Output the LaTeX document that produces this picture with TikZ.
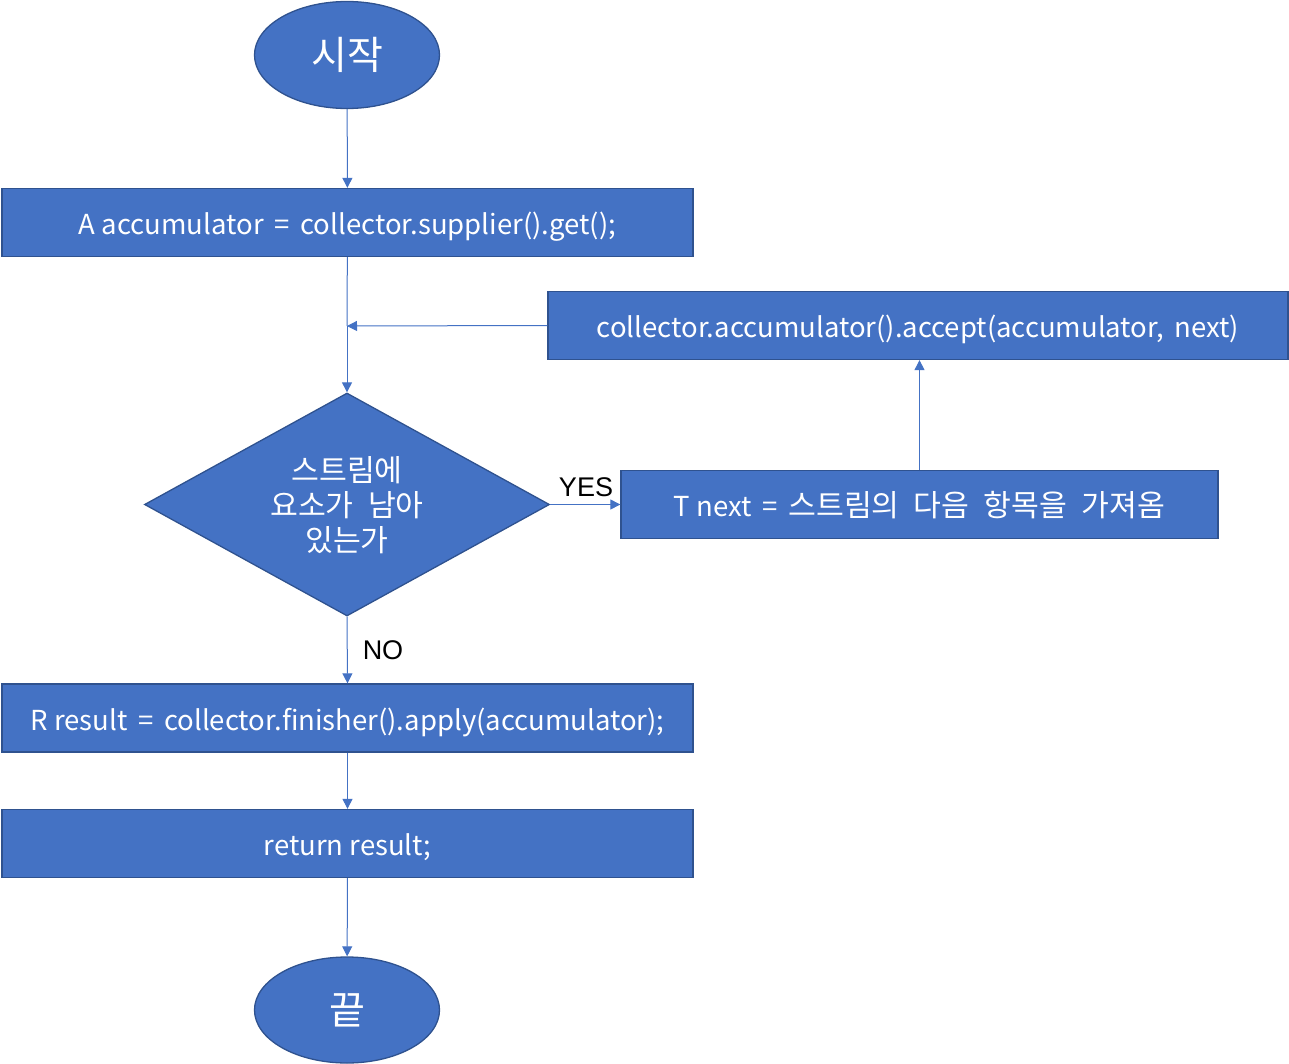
\documentclass[tikz,border=0pt]{standalone}
\usepackage{fontspec}
\setmainfont{Noto Sans CJK KR}
\newfontfamily\kor[Scale=1.1,WordSpace=2.1]{Noto Sans CJK KR}
\newfontfamily\arialf{Liberation Sans}
\usetikzlibrary{arrows.meta,shapes.geometric}
\definecolor{fillblue}{HTML}{4472C4}
\definecolor{edgeblue}{HTML}{2F528F}
\tikzset{
  box/.style={draw=edgeblue, line width=1.3pt, fill=fillblue, text=white, font=\fontsize{27.5}{33}\selectfont, inner sep=0pt, text height=25pt, text depth=1pt},
  term/.style={ellipse, draw=edgeblue, line width=1.3pt, fill=fillblue, text=white, font=\fontsize{39}{44}\selectfont, inner sep=0pt},
  cond/.style={diamond, draw=edgeblue, line width=1.3pt, fill=fillblue, inner sep=0pt},
  condtext/.style={text=white, font=\kor\fontsize{27.5}{35}\selectfont, align=center, inner sep=0pt},
  conn/.style={draw=fillblue, line width=1pt, -{Triangle[length=10pt,width=10pt]}},
  lbl/.style={font=\arialf\fontsize{27}{30}\selectfont, text=black}
}
\begin{document}
\begin{tikzpicture}[x=1pt,y=-1pt]
\useasboundingbox (0,0) rectangle (1289,1064);
\node[term, minimum width=185pt, minimum height=107pt] (start) at (347,55) {시작};
\node[box, minimum width=691pt, minimum height=68pt] (init) at (347.5,222.5) {A accumulator \,=\, collector.supplier().get();};
\node[box, minimum width=740pt, minimum height=68pt] (acc) at (918,325.5) {collector.accumulator().accept(accumulator,\, next)};
\coordinate (merge) at (347,326);
\node[cond, minimum width=405pt, minimum height=223pt] (test) at (347,504.5) {};
\node[condtext] (testtext) at (347,505) {스트림에\\요소가 남아\\있는가};
\node[box, minimum width=597pt, minimum height=68pt] (next) at (919.5,504.5) {T next \,=\, {\kor 스트림의 다음 항목을 가져옴}};
\node[box, minimum width=691pt, minimum height=68pt] (fin) at (347.5,718) {R result \,=\, collector.finisher().apply(accumulator);};
\node[box, minimum width=691pt, minimum height=68pt] (ret) at (347.5,843.5) {return result;};
\node[term, minimum width=185pt, minimum height=106pt] (end) at (347,1010) {끝};

\draw[conn] (start) -- (init);
\draw[draw=fillblue, line width=1pt] (init) -- (merge);
\draw[conn] (merge) -- (test.north);
\draw[conn] (acc.west) -- (merge);
\draw[conn] (test.east) -- (next.west);
\draw[conn] (next.north) -- (acc.south -| next.north);
\draw[conn] (test.south) -- (fin.north);
\draw[conn] (fin) -- (ret);
\draw[conn] (ret) -- (end);
\node[lbl] (yes) at (586,487) {YES};
\node[lbl] (no) at (383,650) {NO};
\end{tikzpicture}
\end{document}
